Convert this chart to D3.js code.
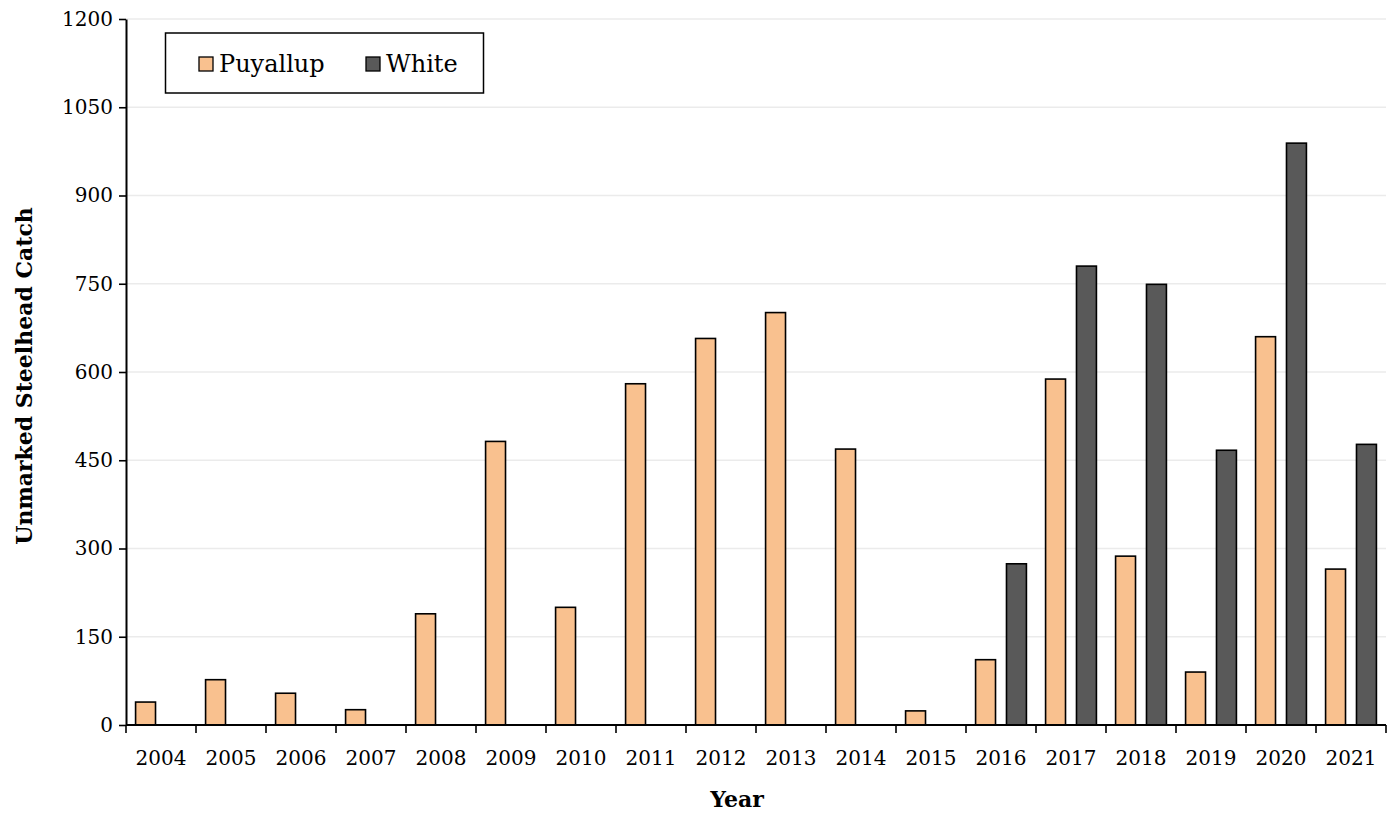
<!DOCTYPE html>
<html>
<head>
<meta charset="utf-8">
<script src="https://cdn.jsdelivr.net/npm/d3@7"></script>
<style>
  html, body { margin: 0; padding: 0; background: #fff; }
  svg { display: block; }
  text { font-family: "DejaVu Serif", "Liberation Serif", serif; }
</style>
</head>
<body>
<svg id="chart" width="1394" height="814"></svg>
<script>
const years = ["2004","2005","2006","2007","2008","2009","2010","2011","2012","2013","2014","2015","2016","2017","2018","2019","2020","2021"];
const seriesNames = ["Puyallup", "White"];
const puyallup = [39, 77, 54, 26, 189, 482, 200, 580, 657, 701, 469, 24, 111, 588, 287, 90, 660, 265];
const white = [null, null, null, null, null, null, null, null, null, null, null, null, 274, 780, 749, 467, 989, 477];
const yTicks = [0, 150, 300, 450, 600, 750, 900, 1050, 1200];
const colors = ["#F9C18F", "#595959"];

const svg = d3.select("#chart");
const margin = {left: 126, top: 19, right: 8, bottom: 89};
const W = 1394, H = 814;
const innerW = W - margin.left - margin.right;
const innerH = H - margin.top - margin.bottom;

const x0 = d3.scaleBand().domain(years).range([margin.left, margin.left + innerW]).padding(0);
const x1 = d3.scaleBand().domain(seriesNames).range([0, x0.bandwidth()]).paddingInner(0.355).paddingOuter(0.31);
const y = d3.scaleLinear().domain([0, 1200]).range([margin.top + innerH, margin.top]);

// gridlines
svg.append("g").selectAll("line").data(yTicks.filter(d => d > 0)).join("line")
  .attr("x1", margin.left).attr("x2", margin.left + innerW)
  .attr("y1", d => y(d)).attr("y2", d => y(d))
  .attr("stroke", "#ebebeb").attr("stroke-width", 1.5);

// bars
const data = [];
years.forEach((yr, i) => {
  data.push({year: yr, s: "Puyallup", v: puyallup[i], c: colors[0]});
  if (white[i] != null) data.push({year: yr, s: "White", v: white[i], c: colors[1]});
});
svg.append("g").selectAll("rect").data(data.filter(d => d.v != null)).join("rect")
  .attr("x", d => x0(d.year) + x1(d.s))
  .attr("width", x1.bandwidth())
  .attr("y", d => y(d.v))
  .attr("height", d => y(0) - y(d.v))
  .attr("fill", d => d.c)
  .attr("stroke", "#000").attr("stroke-width", 1.6);

// y axis
const yAxis = d3.axisLeft(y).tickValues(yTicks).tickFormat(d3.format("d"))
  .tickSize(7).tickSizeOuter(0).tickPadding(6);
const gy = svg.append("g").attr("transform", `translate(${margin.left},0)`).call(yAxis);
gy.select(".domain").attr("stroke", "#000").attr("stroke-width", 2);
gy.selectAll(".tick line").attr("stroke", "#000").attr("stroke-width", 1.6);
gy.selectAll(".tick text").attr("font-size", 20).attr("fill", "#000")
  .attr("font-family", "DejaVu Serif");

// x axis (ticks at category boundaries)
const gx = svg.append("g").attr("transform", `translate(0,${y(0)})`);
gx.append("line").attr("x1", margin.left).attr("x2", margin.left + innerW)
  .attr("y1", 0).attr("y2", 0).attr("stroke", "#000").attr("stroke-width", 2);
const bounds = years.map(d => x0(d)).concat([x0(years[years.length-1]) + x0.bandwidth()]);
gx.selectAll("line.tk").data(bounds).join("line").attr("class", "tk")
  .attr("x1", d => d).attr("x2", d => d).attr("y1", 0).attr("y2", 8)
  .attr("stroke", "#000").attr("stroke-width", 1.6);
gx.selectAll("text").data(years).join("text")
  .attr("x", d => x0(d) + x0.bandwidth() / 2).attr("y", 40)
  .attr("text-anchor", "middle").attr("font-size", 20).attr("fill", "#000")
  .text(d => d);

// axis titles
svg.append("text").attr("x", 737).attr("y", 807).attr("text-anchor", "middle")
  .attr("font-size", 22).attr("font-weight", "bold").text("Year");
svg.append("text").attr("transform", `translate(32,${(margin.top + margin.top + innerH)/2 + 4}) rotate(-90)`)
  .attr("text-anchor", "middle").attr("font-size", 22).attr("font-weight", "bold")
  .text("Unmarked Steelhead Catch");

// legend
const lg = svg.append("g");
lg.append("rect").attr("x", 165.5).attr("y", 33).attr("width", 318).attr("height", 60)
  .attr("fill", "#fff").attr("stroke", "#000").attr("stroke-width", 1.5);
const legendX = [199, 366];
seriesNames.forEach((s, i) => {
  lg.append("rect").attr("x", legendX[i]).attr("y", 57).attr("width", 14).attr("height", 14)
    .attr("fill", colors[i]).attr("stroke", "#000").attr("stroke-width", 1.3);
  lg.append("text").attr("x", legendX[i] + 20).attr("y", 72).attr("font-size", 24)
    .attr("fill", "#000").text(s);
});
</script>
</body>
</html>
